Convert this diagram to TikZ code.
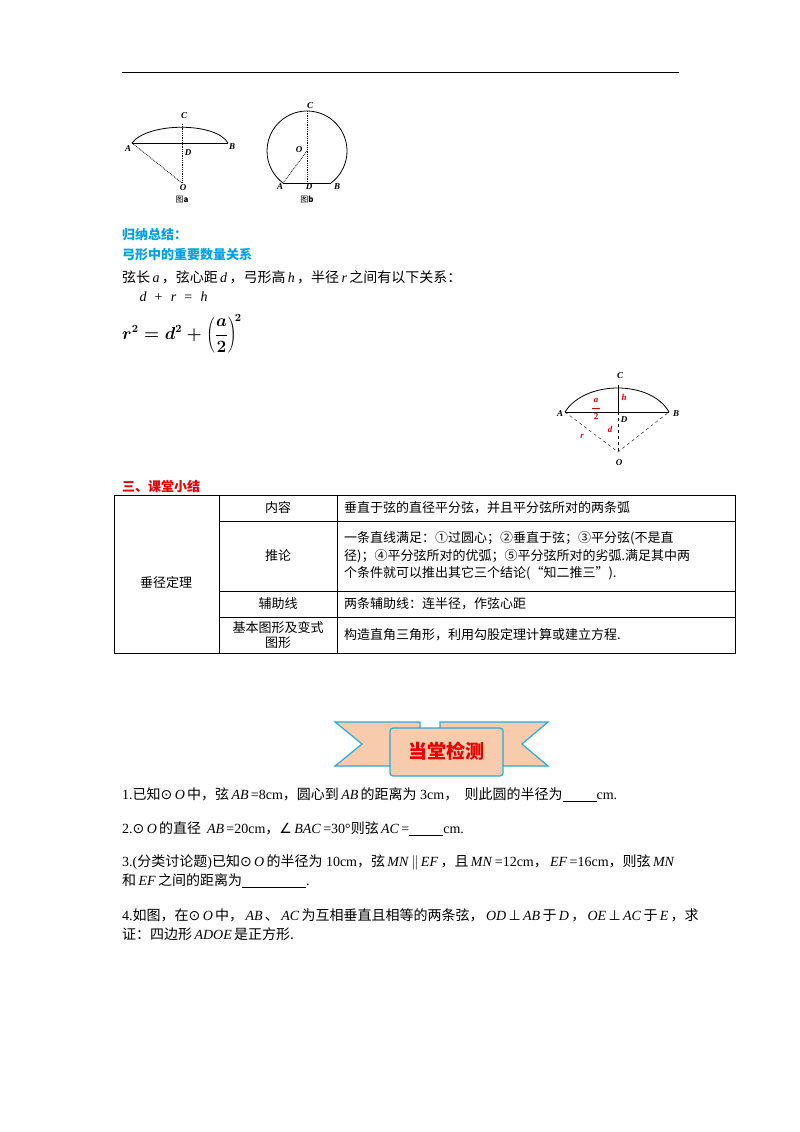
\documentclass[tikz,border=0pt]{standalone}
\usepackage{fontspec}
\setmainfont{Liberation Serif}
\newfontfamily\cjk{Noto Sans CJK SC}
\newfontfamily\sym{DejaVu Sans}
\usetikzlibrary{calc}
\definecolor{blu}{RGB}{0,160,230}
\definecolor{redd}{RGB}{230,0,0}
\definecolor{peach}{RGB}{248,203,173}
\definecolor{bord}{RGB}{40,170,220}
\tikzset{
 lbl/.style={font=\fontsize{9}{9}\selectfont\bfseries\itshape,inner sep=1pt},
 txt/.style={anchor=west,font=\fontsize{14}{16}\selectfont,inner sep=0pt},
 cell/.style={font=\fontsize{13}{17.5}\selectfont\cjk,inner sep=0pt},
 dsh/.style={densely dotted,thick},
}
\newcommand{\iv}[1]{\,\textit{#1}\,}
\begin{document}
\begin{tikzpicture}[x=1pt,y=-1pt]
\useasboundingbox (0,0) rectangle (800,1132);
\draw[thick] (122,72) -- (679,72);
% fig a
\coordinate (aA) at (132,143); \coordinate (aB) at (228,143);
\coordinate (aD) at (182,143); \coordinate (aO) at (182,183); \coordinate (aC) at (182,124);
\draw[thick] (aA) .. controls (148,122) and (216,122) .. (aB);
\draw (aA) -- (aB);
\draw[dsh] (aA) -- (aO); \draw[dsh] (aC) -- (aO);
\node[lbl] at (184,116) {C}; \node[lbl] at (128,149) {A}; \node[lbl] at (188,153) {D};
\node[lbl] at (232,147) {B}; \node[lbl] at (183,188) {O};
\node[font=\fontsize{8}{8}\selectfont\cjk] (la) at (182,200) {图\textbf{a}};
% fig b
\coordinate (bO) at (307,151); \coordinate (bA) at (283,183); \coordinate (bB) at (331,183);
\coordinate (bD) at (307,183); \coordinate (bC) at (307,111);
\draw[thick] (bB) arc[start angle=53.13,end angle=-233.13,radius=40];
\draw[thick] (bA) -- (bB);
\draw[dsh] (bO) -- (bA); \draw[dsh] (bC) -- (bD);
\node[lbl] at (310,106) {C}; \node[lbl] at (280,187) {A}; \node[lbl] at (309,187) {D};
\node[lbl] at (337,187) {B}; \node[lbl] at (299,150) {O};
\node[font=\fontsize{8}{8}\selectfont\cjk] (lb) at (307,200) {图\textbf{b}};
% summary text
\node[txt,text=blu,font=\fontsize{13}{14}\selectfont\cjk\bfseries] at (122,235) {归纳总结：};
\node[txt,text=blu,font=\fontsize{13}{14}\selectfont\cjk\bfseries] at (122,255) {弓形中的重要数量关系};
\node[txt] at (122,277) {{\cjk 弦长}\iv{a}{\cjk ，弦心距}\iv{d}{\cjk ，弓形高}\iv{h}{\cjk ，半径}\iv{r}{\cjk 之间有以下关系：}};
\node[txt] at (137,297) {\iv{d} \,+\, \iv{r} \,=\, \iv{h}};
\node[txt,font=\fontsize{16}{20}\selectfont\mathversion{bold}] at (122,334) {$\displaystyle r^2=d^2+\left(\frac{a}{2}\right)^{\!2}$};
% right fig
\coordinate (rA) at (565,412); \coordinate (rB) at (669,412);
\coordinate (rD) at (618,412); \coordinate (rO) at (618,452); \coordinate (rC) at (618,385);
\draw[thick] (rA) .. controls (585,380) and (651,380) .. (rB);
\draw (rA) -- (rB); \draw (rC) -- (rD);
\draw[dashed] (rA) -- (rO) -- (rB); \draw[dashed] (rD) -- (rO);
\node[lbl] at (620,376) {C}; \node[lbl] at (560,414) {A}; \node[lbl] at (624,420) {D};
\node[lbl] at (676,414) {B}; \node[lbl] at (619,463) {O};
\node[lbl,text=redd] at (624,397) {h}; \node[lbl,text=redd] at (596,400) {a};
\draw[redd,thick] (592,408) -- (600,408);
\node[lbl,text=redd,font=\fontsize{9}{9}\selectfont\bfseries] at (596,417) {2};
\node[lbl,text=redd] at (610,429) {d}; \node[lbl,text=redd] at (582,436) {r};
% table
\node[txt,text=redd,font=\fontsize{13}{14}\selectfont\cjk\bfseries] at (122,487) {三、课堂小结};
\draw (114,495) rectangle (735,653);
\draw (219,495) -- (219,653); \draw (337,495) -- (337,653);
\draw (219,521) -- (735,521); \draw (219,591) -- (735,591); \draw (219,617) -- (735,617);
\node[cell] (c0) at (166,583) {垂径定理};
\node[cell] (c1) at (278,508) {内容};
\node[cell] (c2) at (278,556) {推论};
\node[cell] (c3) at (278,604) {辅助线};
\node[cell,align=center,font=\fontsize{13}{15}\selectfont\cjk] (c4) at (278,635) {基本图形及变式\\图形};
\node[cell,anchor=west] at (344,508) {垂直于弦的直径平分弦，并且平分弦所对的两条弧};
\node[cell,anchor=west,align=left] at (344,556) {一条直线满足：①过圆心；②垂直于弦；③平分弦(不是直\\径)；④平分弦所对的优弧；⑤平分弦所对的劣弧.满足其中两\\个条件就可以推出其它三个结论(“知二推三”).};
\node[cell,anchor=west] at (344,604) {两条辅助线：连半径，作弦心距};
\node[cell,anchor=west] at (344,635) {构造直角三角形，利用勾股定理计算或建立方程.};
% banner
\begin{scope}[draw=bord,line width=1.2pt,fill=peach]
\filldraw (335,722) -- (420,722) -- (420,766) -- (335,766) -- (362,744) -- cycle;
\filldraw (440,722) -- (548,722) -- (522,744) -- (548,766) -- (440,766) -- cycle;
\filldraw[rounded corners=3pt] (390,728) rectangle (503,776);
\end{scope}
\node[text=redd,font=\fontsize{19}{20}\selectfont\cjk\bfseries] (ban) at (446,751) {当堂检测};
% questions
\node[txt] at (122,795) {1.{\cjk 已知}{\sym ⊙}\iv{O}{\cjk 中，弦}\iv{AB}=8cm{\cjk ，圆心到}\iv{AB}{\cjk 的距离为} 3cm{\cjk ，\ \ 则此圆的半径为}\underline{\hspace{34pt}}cm.};
\node[txt] at (122,829) {2.{\sym ⊙}\iv{O}{\cjk 的直径} \iv{AB}=20cm{\cjk ，}{\sym ∠}\iv{BAC}=30°{\cjk 则弦}\iv{AC}=\underline{\hspace{34pt}}cm.};
\node[txt] at (122,862) {3.({\cjk 分类讨论题}){\cjk 已知}{\sym ⊙}\iv{O}{\cjk 的半径为} 10cm{\cjk ，弦}\iv{MN}$\|$\iv{EF}{\cjk ，且}\iv{MN}=12cm{\cjk ，}\iv{EF}=16cm{\cjk ，则弦}\iv{MN}};
\node[txt] at (122,881) {{\cjk 和}\iv{EF}{\cjk 之间的距离为}\underline{\hspace{64pt}}.};
\node[txt] at (122,915) {4.{\cjk 如图，在}{\sym ⊙}\iv{O}{\cjk 中，}\iv{AB}{\cjk 、}\iv{AC}{\cjk 为互相垂直且相等的两条弦，}\iv{OD}{\sym ⊥}\iv{AB}{\cjk 于}\iv{D}{\cjk ，}\iv{OE}{\sym ⊥}\iv{AC}{\cjk 于}\iv{E}{\cjk ，求}};
\node[txt] at (122,934) {{\cjk 证：四边形}\iv{ADOE}{\cjk 是正方形.}};
\end{tikzpicture}
\end{document}
